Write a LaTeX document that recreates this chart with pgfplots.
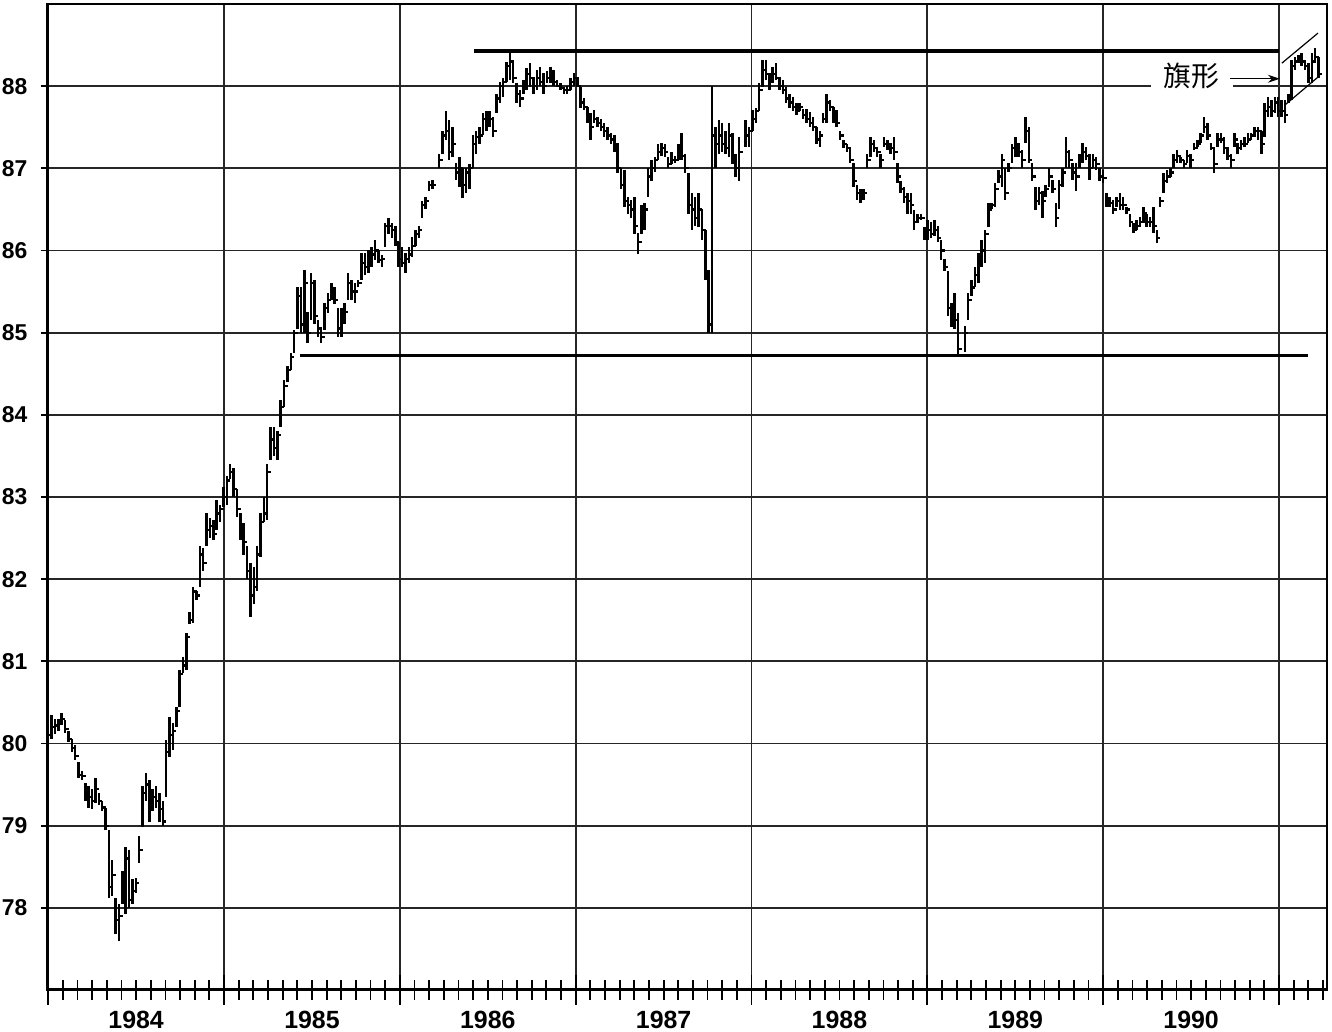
\documentclass[border=0pt]{standalone}
\usepackage{fontspec}
\setmainfont{Liberation Sans}
\newfontfamily\cjk{Noto Sans CJK SC}
\usepackage{pgfplots}
\usepackage{pgfplotstable}
\pgfplotsset{compat=1.18}
\usetikzlibrary{arrows.meta}

% close tick to the right of each weekly bar
\pgfdeclareplotmark{closetick}{%
  \pgfpathmoveto{\pgfqpoint{0pt}{0pt}}%
  \pgfpathlineto{\pgfqpoint{\pgfplotmarksize}{0pt}}%
  \pgfusepathqstroke}

% k = week since Jan 1984, l = low, h = high, c = close
\pgfplotstableread{
k l h c
0 79.78 80.30 80.10
1 80.05 80.35 80.20
2 80.12 80.30 80.22
3 80.15 80.30 80.25
4 80.22 80.37 80.30
5 80.13 80.28 80.18
6 80.02 80.15 80.05
7 79.90 80.05 79.95
8 79.80 79.98 79.85
9 79.58 79.78 79.62
10 79.55 79.66 79.60
11 79.30 79.52 79.40
12 79.22 79.48 79.35
13 79.20 79.45 79.30
14 79.28 79.58 79.45
15 79.25 79.40 79.30
16 79.18 79.30 79.22
17 78.95 79.22 79.00
18 78.12 78.95 78.25
19 78.15 78.58 78.40
20 77.68 78.12 77.85
21 77.60 78.05 77.90
22 78.05 78.45 78.30
23 77.92 78.74 78.60
24 78.00 78.70 78.10
25 78.05 78.35 78.20
26 78.18 78.36 78.30
27 78.55 78.88 78.70
28 78.98 79.48 79.40
29 79.30 79.64 79.50
30 79.05 79.56 79.20
31 79.18 79.45 79.35
32 79.22 79.48 79.30
33 79.05 79.40 79.20
34 78.99 79.30 79.05
35 79.35 80.04 79.90
36 79.84 80.32 80.10
37 79.92 80.25 80.15
38 80.20 80.45 80.40
39 80.45 80.90 80.85
40 80.86 81.05 80.95
41 80.90 81.35 81.30
42 81.45 81.60 81.50
43 81.47 81.90 81.85
44 81.75 81.85 81.80
45 81.90 82.40 82.30
46 82.10 82.38 82.20
47 82.40 82.80 82.60
48 82.50 82.75 82.65
49 82.48 82.72 82.55
50 82.60 82.96 82.80
51 82.70 82.90 82.85
52 82.88 83.12 83.00
53 82.90 83.25 83.20
54 83.22 83.40 83.30
55 83.00 83.35 83.10
56 82.76 83.10 82.85
57 82.48 82.80 82.60
58 82.30 82.68 82.45
59 82.00 82.40 82.10
60 81.54 82.20 81.80
61 81.70 82.15 81.90
62 81.85 82.40 82.30
63 82.27 82.80 82.70
64 82.70 83.00 82.80
65 82.72 83.40 83.30
66 83.45 83.85 83.70
67 83.50 83.85 83.60
68 83.45 83.80 83.75
69 83.85 84.18 84.10
70 84.10 84.42 84.35
71 84.40 84.60 84.55
72 84.55 84.75 84.70
73 84.75 85.03 85.00
74 85.05 85.55 85.45
75 85.00 85.55 85.10
76 85.00 85.76 85.60
77 84.87 85.25 85.00
78 85.15 85.72 85.60
79 85.10 85.64 85.20
80 84.95 85.15 85.05
81 84.87 85.07 84.95
82 85.03 85.36 85.30
83 85.24 85.48 85.40
84 85.40 85.60 85.50
85 85.35 85.55 85.40
86 84.95 85.30 85.05
87 84.95 85.30 85.20
88 85.10 85.36 85.25
89 85.40 85.72 85.60
90 85.40 85.64 85.50
91 85.36 85.60 85.50
92 85.55 85.64 85.60
93 85.64 85.97 85.85
94 85.70 85.97 85.80
95 85.72 86.00 85.90
96 85.80 86.04 85.95
97 85.88 86.13 86.00
98 85.85 86.00 85.88
99 85.80 85.95 85.90
100 86.04 86.33 86.30
101 86.20 86.40 86.30
102 86.15 86.33 86.25
103 86.05 86.30 86.10
104 85.80 86.10 85.90
105 85.80 86.04 85.85
106 85.72 85.97 85.90
107 85.85 86.04 85.95
108 85.92 86.16 86.05
109 86.05 86.25 86.20
110 86.15 86.30 86.25
111 86.40 86.60 86.55
112 86.50 86.65 86.60
113 86.73 86.85 86.80
114 86.75 86.86 86.80
116 87.00 87.18 87.10
117 87.18 87.46 87.40
118 87.34 87.70 87.45
119 87.10 87.59 87.20
120 87.14 87.50 87.30
121 86.86 87.06 86.95
122 86.77 87.14 87.00
123 86.64 87.00 86.80
124 86.70 87.01 86.95
125 86.75 87.05 87.00
126 87.00 87.40 87.30
127 87.18 87.46 87.38
128 87.30 87.50 87.40
129 87.40 87.67 87.60
130 87.45 87.70 87.55
131 87.50 87.70 87.60
132 87.38 87.62 87.45
133 87.67 87.90 87.85
134 87.80 88.05 88.00
135 87.87 88.10 88.05
136 88.05 88.30 88.25
137 88.07 88.44 88.30
138 88.04 88.32 88.10
139 87.80 88.04 87.90
140 87.75 87.95 87.85
141 87.90 88.08 88.00
142 87.95 88.22 88.15
143 87.99 88.28 88.10
144 87.91 88.11 88.00
145 87.95 88.20 88.10
146 88.00 88.23 88.05
147 87.91 88.16 88.00
148 88.04 88.19 88.10
149 88.04 88.23 88.15
150 88.00 88.20 88.05
151 87.99 88.07 88.00
152 87.95 88.04 87.98
153 87.91 87.99 87.95
154 87.90 88.00 87.95
155 87.95 88.10 88.05
156 88.00 88.16 88.10
157 87.99 88.11 88.00
158 87.74 87.99 87.80
159 87.71 87.85 87.75
160 87.55 87.75 87.60
161 87.34 87.67 87.50
162 87.55 87.71 87.60
163 87.50 87.62 87.55
164 87.45 87.60 87.50
165 87.38 87.55 87.45
166 87.34 87.50 87.40
167 87.30 87.43 87.35
168 87.20 87.40 87.25
169 86.94 87.31 87.00
170 86.75 87.00 86.80
171 86.53 86.98 86.60
172 86.45 86.65 86.55
173 86.40 86.61 86.50
174 86.20 86.65 86.30
175 85.96 86.21 86.10
176 86.20 86.55 86.45
177 86.25 86.58 86.50
178 86.65 87.00 86.90
179 86.85 87.10 87.00
180 86.95 87.14 87.10
181 87.10 87.30 87.20
182 87.15 87.31 87.25
183 87.14 87.30 87.20
184 87.01 87.14 87.05
185 87.05 87.20 87.10
186 87.06 87.15 87.10
187 87.10 87.30 87.20
188 87.10 87.43 87.15
189 86.94 87.18 87.00
190 86.45 86.94 86.55
191 86.25 86.70 86.50
192 86.30 86.65 86.40
193 86.28 86.70 86.50
194 86.13 86.50 86.25
195 85.64 86.25 85.70
196 85.00 85.76 85.10
197 85.00 88.00 87.40
198 87.00 87.50 87.30
199 87.18 87.59 87.40
200 87.20 87.55 87.30
201 87.18 87.46 87.25
202 87.14 87.55 87.40
203 87.05 87.43 87.15
204 86.89 87.18 87.00
205 86.85 87.38 87.20
207 87.26 87.59 87.40
208 87.26 87.50 87.45
209 87.45 87.71 87.60
210 87.55 87.74 87.70
211 87.70 88.04 87.95
212 87.99 88.32 88.20
213 88.07 88.32 88.15
214 87.95 88.16 88.05
215 88.04 88.23 88.15
216 88.07 88.28 88.10
217 87.95 88.11 88.00
218 87.91 88.07 87.95
219 87.79 87.99 87.85
220 87.74 87.90 87.80
221 87.70 87.87 87.75
222 87.65 87.80 87.70
223 87.70 87.79 87.75
224 87.60 87.72 87.65
225 87.55 87.72 87.60
226 87.50 87.68 87.55
227 87.45 87.62 87.50
228 87.30 87.50 87.35
229 87.26 87.46 87.40
230 87.55 87.67 87.60
231 87.55 87.91 87.80
232 87.70 87.83 87.75
233 87.55 87.75 87.60
234 87.50 87.71 87.55
235 87.35 87.45 87.40
236 87.25 87.35 87.30
237 87.20 87.30 87.25
238 87.06 87.26 87.10
239 86.77 87.06 86.85
240 86.61 86.80 86.70
241 86.58 86.75 86.65
242 86.62 86.75 86.70
243 87.01 87.18 87.10
244 87.14 87.38 87.30
245 87.20 87.35 87.25
246 87.14 87.26 87.20
247 87.01 87.18 87.10
248 87.26 87.38 87.30
249 87.22 87.35 87.30
250 87.18 87.31 87.25
251 87.10 87.38 87.20
252 86.82 87.06 86.90
253 86.70 86.85 86.75
254 86.58 86.77 86.65
255 86.45 86.70 86.60
256 86.45 86.70 86.55
257 86.25 86.49 86.35
258 86.33 86.45 86.40
259 86.37 86.45 86.40
260 86.13 86.28 86.20
261 86.13 86.37 86.25
262 86.15 86.35 86.20
263 86.18 86.37 86.25
264 86.10 86.30 86.15
265 85.88 86.13 86.00
266 85.75 85.90 85.80
267 85.20 85.75 85.30
268 85.07 85.36 85.20
269 85.05 85.48 85.15
270 84.72 85.24 84.80
272 84.76 85.08 85.00
273 85.15 85.48 85.40
274 85.45 85.64 85.55
275 85.55 85.80 85.70
276 85.60 85.97 85.90
277 85.80 86.13 86.00
278 85.85 86.25 86.20
279 86.28 86.58 86.50
280 86.50 86.58 86.55
281 86.53 86.82 86.75
282 86.82 86.98 86.90
283 86.77 87.18 87.10
284 86.61 87.01 86.70
285 86.95 87.06 87.00
286 87.06 87.30 87.25
287 87.14 87.38 87.30
288 87.14 87.31 87.20
289 87.01 87.22 87.10
290 87.31 87.62 87.45
291 87.06 87.50 87.10
292 86.85 87.06 86.90
293 86.49 86.77 86.60
294 86.55 86.77 86.70
295 86.40 86.73 86.60
296 86.65 86.80 86.75
297 86.77 87.01 86.90
298 86.70 86.86 86.75
299 86.28 86.58 86.40
300 86.50 86.86 86.80
301 86.77 87.01 86.95
302 87.01 87.38 87.20
303 87.01 87.22 87.10
304 86.86 87.06 86.95
305 86.73 87.06 86.90
306 87.01 87.18 87.10
307 87.06 87.31 87.20
308 87.10 87.26 87.15
309 86.86 87.18 87.00
310 87.01 87.18 87.10
311 86.98 87.14 87.05
312 86.85 87.01 86.90
313 86.82 86.98 86.88
314 86.53 86.70 86.60
315 86.53 86.65 86.58
316 86.45 86.61 86.50
317 86.53 86.65 86.60
318 86.49 86.70 86.55
319 86.49 86.65 86.55
320 86.45 86.53 86.50
321 86.28 86.45 86.35
322 86.21 86.33 86.25
323 86.25 86.37 86.30
324 86.28 86.41 86.35
325 86.33 86.53 86.45
326 86.28 86.45 86.35
327 86.28 86.41 86.35
328 86.21 86.53 86.30
329 86.09 86.25 86.15
330 86.53 86.65 86.60
331 86.70 86.94 86.85
332 86.82 86.98 86.90
333 86.90 87.01 86.95
334 87.01 87.18 87.10
335 87.06 87.22 87.15
336 87.06 87.14 87.10
337 87.01 87.10 87.05
338 87.06 87.22 87.15
339 87.01 87.18 87.10
340 87.22 87.31 87.25
341 87.26 87.34 87.30
342 87.31 87.43 87.40
343 87.43 87.62 87.50
344 87.34 87.55 87.40
345 87.22 87.31 87.25
346 86.94 87.26 87.05
347 87.26 87.43 87.35
348 87.31 87.43 87.35
349 87.18 87.38 87.25
350 87.10 87.26 87.15
351 87.01 87.18 87.10
352 87.26 87.43 87.35
353 87.18 87.31 87.25
354 87.22 87.34 87.30
355 87.26 87.38 87.30
356 87.31 87.43 87.35
357 87.34 87.43 87.40
358 87.38 87.50 87.45
359 87.34 87.50 87.45
360 87.18 87.46 87.30
361 87.38 87.79 87.70
362 87.62 87.87 87.75
363 87.62 87.83 87.70
364 87.67 87.87 87.80
365 87.62 87.87 87.70
366 87.62 87.83 87.70
367 87.55 87.83 87.65
368 87.79 87.91 87.85
369 87.83 88.32 88.25
370 88.20 88.35 88.30
371 88.28 88.38 88.32
372 88.25 88.40 88.30
373 88.20 88.32 88.25
374 88.04 88.28 88.10
375 88.04 88.40 88.30
376 88.28 88.47 88.35
377 88.10 88.35 88.15
}\weekly

\begin{document}
\begin{tikzpicture}
\fill[white] (-23.5bp,-21bp) rectangle (642.5bp,495bp);
\begin{axis}[
  at={(0,0)}, anchor=south west,
  width=640bp, height=493bp, scale only axis,
  xmin=-0.36, xmax=379.5, ymin=77, ymax=89,
  axis line style={line width=1bp, black},
  xtick={0,52.18,104.36,156.54,208.72,260.90,313.08,365.26},
  xticklabels={},
  minor xtick={0,4.3483,...,379},
  ytick={78,...,88},
  xtick pos=left, ytick pos=left,
  xtick align=center, ytick align=outside,
  x tick style={line width=0.9bp, black, /pgfplots/major tick length=15bp, /pgfplots/minor tick length=10bp},
  y tick style={line width=0.9bp, black, /pgfplots/major tick length=3bp},
  grid=major,
  major grid style={line width=0.9bp, black!85},
  /pgf/number format/assume math mode=true,
  yticklabel style={font=\bfseries\fontsize{11.5}{12}\selectfont, xshift=-2bp},
  xticklabel style={font=\bfseries\fontsize{12.5}{13}\selectfont, yshift=-5bp},
  extra x ticks={26.09,78.27,130.45,182.63,234.81,286.99,339.17},
  extra x tick labels={1984,1985,1986,1987,1988,1989,1990},
  extra x tick style={grid=none, x tick style={draw=none}},
]
\addplot[black, only marks, mark=closetick, mark size=1.8bp,
  mark options={line width=1.1bp},
  error bars/.cd, y dir=both, y explicit, error mark=none,
  error bar style={line width=1.25bp, black}]
  table[x=k, y=c, y error plus expr=\thisrow{h}-\thisrow{c},
        y error minus expr=\thisrow{c}-\thisrow{l}] {\weekly};

% resistance and support lines
\addplot[black, line width=1.8bp] coordinates {(126.4,88.43) (365.26,88.43)};
\addplot[black, line width=1.8bp] coordinates {(74.7,84.72) (373.9,84.72)};
% flag
\addplot[black, line width=0.6bp] coordinates {(366.1,88.28) (376.8,88.645)};
\addplot[black, line width=0.6bp] coordinates {(367.0,87.77) (377.4,88.13)};

\node[fill=white, inner xsep=6.5bp, inner ysep=1bp,
  font=\cjk\fontsize{14}{14}\selectfont] at (axis cs:339.4,88.13) {旗形};
\draw[-{Stealth[length=6bp,width=4bp]}, line width=0.6bp]
  (axis cs:350.7,88.09) -- (axis cs:365.5,88.09);

\draw[line width=1.6bp, black] (rel axis cs:0,1) -- (rel axis cs:0,0) -- (rel axis cs:1,0);
\end{axis}
\pgfresetboundingbox
\path[use as bounding box] (-23.5bp,-21bp) rectangle (642.5bp,495bp);
\end{tikzpicture}
\end{document}
